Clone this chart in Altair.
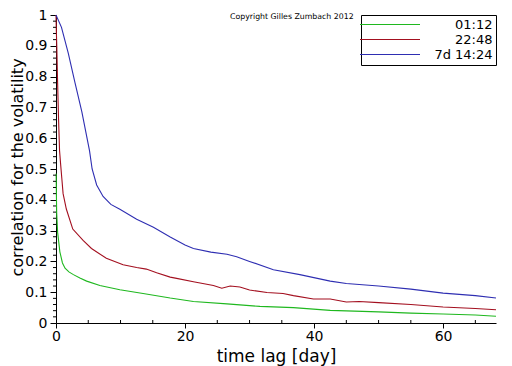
import altair as alt
import pandas as pd

# ---- data ----
series_names = ["01:12", "22:48", "7d 14:24"]
series_colors = ["#1fb81f", "#a30f1f", "#2e2eb2"]

green_days = [0.02, 0.1, 0.25, 0.6, 1.0, 1.4, 2.0, 2.7, 3.7, 4.75, 6.8, 9.9, 13.5, 17.7,
              21.3, 26.5, 31.6, 36.8, 42.5, 50, 55, 60, 65, 68.2]
green_vals = [0.485, 0.36, 0.295, 0.231, 0.195, 0.178, 0.166, 0.157, 0.146, 0.136, 0.122,
              0.108, 0.096, 0.081, 0.07, 0.062, 0.054, 0.05, 0.041, 0.036, 0.032, 0.029,
              0.026, 0.022]

red_days = [0, 0.05, 0.12, 0.25, 0.4, 0.55, 0.7, 0.9, 1.1, 1.6, 2.6, 4.2, 5.5, 7.8, 10.4,
            12.5, 14, 15.6, 17.7, 18.7, 21.3, 24.4, 25.7, 27, 28.5, 30, 32.7, 35.2, 36.8,
            39.9, 42.5, 45, 47, 50, 55, 60, 65, 68.2]
red_vals = [1.0, 0.95, 0.9, 0.78, 0.66, 0.56, 0.52, 0.47, 0.42, 0.37, 0.305, 0.268, 0.242,
            0.21, 0.189, 0.18, 0.175, 0.163, 0.149, 0.145, 0.134, 0.122, 0.113, 0.12, 0.117,
            0.107, 0.099, 0.096, 0.089, 0.078, 0.078, 0.068, 0.07, 0.066, 0.06, 0.052,
            0.047, 0.043]

blue_days = [0, 0.85, 1.9, 2.95, 4, 5.2, 5.6, 6.3, 7.3, 8.5, 9.9, 12.5, 15.1, 17.7, 20,
             21.3, 24, 26.5, 28, 30, 33.7, 37.8, 42.5, 45, 50, 55, 60, 65, 68.2]
blue_vals = [1.0, 0.96, 0.876, 0.78, 0.686, 0.559, 0.5, 0.448, 0.411, 0.385, 0.369, 0.337,
             0.311, 0.279, 0.253, 0.242, 0.23, 0.223, 0.215, 0.2, 0.173, 0.157, 0.136,
             0.128, 0.12, 0.11, 0.097, 0.089, 0.081]

x_major = [0, 20, 40, 60]
x_minor = [5, 10, 15, 25, 30, 35, 45, 50, 55, 65]
y_major = [round(i * 0.1, 1) for i in range(11)]
y_minor = [round(i * 0.02, 2) for i in range(51) if i % 5 != 0]
copyright_text = "Copyright Gilles Zumbach 2012"

# ---- build tables ----
rows = []
for name, days, vals in zip(series_names, [green_days, red_days, blue_days],
                            [green_vals, red_vals, blue_vals]):
    for i, (d, v) in enumerate(zip(days, vals)):
        rows.append({"series": name, "day": d, "value": v, "order": i})
df = pd.DataFrame(rows)

XMAX = 68.2
W, H = 440, 308
# minor tick lengths expressed in data units (3 px)
minor_x_df = pd.DataFrame({"day": x_minor, "v0": [0.0] * len(x_minor),
                           "v1": [3 / H] * len(x_minor)})
minor_y_df = pd.DataFrame({"value": y_minor, "d0": [-3 * XMAX / W] * len(y_minor),
                           "d1": [0.0] * len(y_minor)})

FONT = "DejaVu Sans"

x_scale = alt.Scale(domain=[0, XMAX], nice=False, zero=False)
y_scale = alt.Scale(domain=[0, 1], nice=False)

x_axis = alt.Axis(
    values=x_major, grid=False, title="time lag  [day]", format="d",
    tickSize=5, labelPadding=1, labelFontSize=14, labelFont=FONT, labelColor="black",
    titleFont=FONT, titleFontSize=17, titleFontWeight="normal", titleColor="black",
    titlePadding=5, domainColor="black", tickColor="black", labelOverlap=False,
    labelFlush=False,
)
y_axis = alt.Axis(
    values=y_major, grid=False, title="correlation for the volatility",
    labelExpr="toString(datum.value)",
    tickSize=6, labelPadding=3, labelFontSize=14, labelFont=FONT, labelColor="black",
    titleFont=FONT, titleFontSize=16, titleFontWeight="normal", titleColor="black",
    titleX=-31, titleY=152,
    domainColor="black", tickColor="black", labelOverlap=False,
    labelFlush=False,
)

lines = alt.Chart(df).mark_line(strokeWidth=1.1, interpolate="linear").encode(
    x=alt.X("day:Q", scale=x_scale, axis=x_axis),
    y=alt.Y("value:Q", scale=y_scale, axis=y_axis),
    order="order:Q",
    color=alt.Color(
        "series:N",
        scale=alt.Scale(domain=series_names, range=series_colors),
        legend=alt.Legend(
            title=None, orient="none", legendX=305, legendY=0,
            symbolType="M-6,0H6", symbolSize=100, symbolStrokeWidth=1.1,
            symbolOffset=19.5, labelAlign="right", labelOffset=96,
            labelFont=FONT, labelFontSize=13, labelColor="black",
            strokeColor="black", fillColor="white", padding=3, cornerRadius=0,
            rowPadding=1,
        ),
    ),
)

minor_x = alt.Chart(minor_x_df).mark_rule(color="black", strokeWidth=1).encode(
    x=alt.X("day:Q", scale=x_scale, axis=x_axis),
    y=alt.Y("v0:Q", scale=y_scale, axis=y_axis),
    y2="v1:Q",
)
minor_y = alt.Chart(minor_y_df).mark_rule(color="black", strokeWidth=1, clip=False).encode(
    y=alt.Y("value:Q", scale=y_scale, axis=y_axis),
    x=alt.X("d0:Q", scale=x_scale, axis=x_axis),
    x2="d1:Q",
)

copyright_mark = alt.Chart(pd.DataFrame({"t": [copyright_text]})).mark_text(
    align="left", baseline="middle", font=FONT, fontSize=7.8, color="black"
).encode(x=alt.value(174), y=alt.value(2), text="t:N")

chart = alt.layer(lines, minor_x, minor_y, copyright_mark).properties(
    width=W, height=H,
    autosize=alt.AutoSizeParams(type="none"),
    padding={"left": 48, "top": 7, "right": 8, "bottom": 43},
    background="white",
).configure_view(stroke=None)

chart.save("out.html", embed_options={"renderer": "svg", "actions": False})
